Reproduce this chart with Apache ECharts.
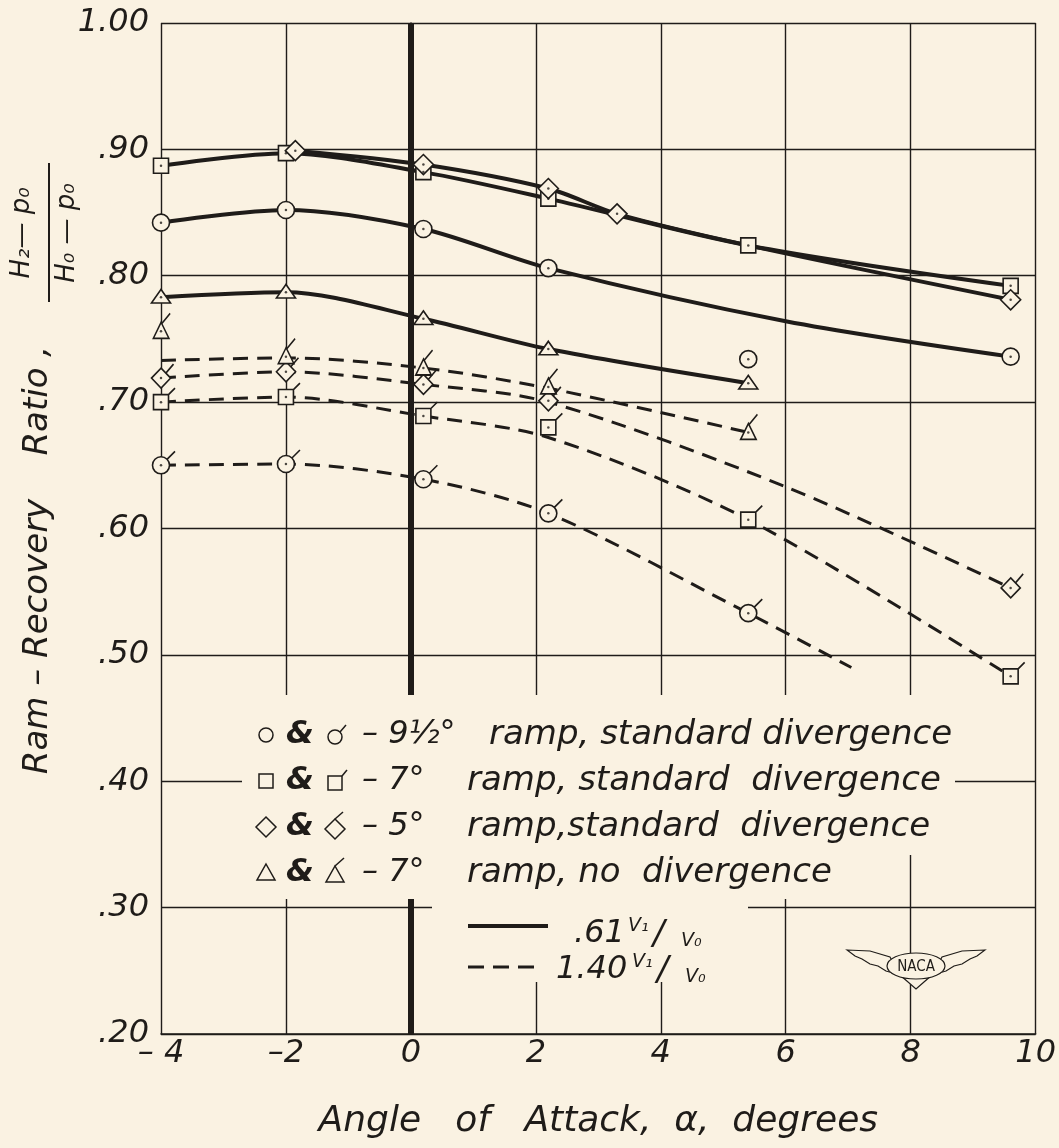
<!DOCTYPE html>
<html>
<head>
<meta charset="utf-8">
<title>Ram-Recovery Ratio vs Angle of Attack</title>
<script src="https://cdn.jsdelivr.net/npm/echarts@6/dist/echarts.min.js"></script>
<style>
  html, body { margin: 0; padding: 0; background: #faf2e2; }
  #chart { width: 1059px; height: 1148px; }
</style>
</head>
<body>
<div id="chart"></div>
<script>
// axis ranges
const xMin = -4, xMax = 10, xStep = 2
const yMin = 0.2, yMax = 1.0, yStep = 0.1

// .61 V1/V0  (solid curves) - measured points
const circleSolidPts = [[-4, 0.842], [-2, 0.852], [0.2, 0.837], [2.2, 0.806], [5.4, 0.734], [9.6, 0.736]]
const squareSolidPts = [[-4, 0.887], [-2, 0.897], [0.2, 0.882], [2.2, 0.861], [5.4, 0.824], [9.6, 0.792]]
const diamondSolidPts = [[-1.85, 0.899], [0.2, 0.888], [2.2, 0.869], [3.3, 0.849], [9.6, 0.781]]
const triangleSolidPts = [[-4, 0.783], [-2, 0.787], [0.2, 0.766], [2.2, 0.742], [5.4, 0.715]]
// faired curves
const circleSolidCurve = [[-4, 0.842], [-2, 0.852], [0.2, 0.837], [2.2, 0.806], [6, 0.764], [9.6, 0.736]]
const squareSolidCurve = [[-4, 0.887], [-2, 0.897], [0.2, 0.882], [2.2, 0.861], [5.4, 0.824], [9.6, 0.792]]
const diamondSolidCurve = [[-1.85, 0.899], [0.2, 0.888], [2.2, 0.869], [3.3, 0.849], [5.4, 0.824], [9.6, 0.781]]
const triangleSolidCurve = [[-4, 0.783], [-2, 0.787], [0.2, 0.766], [2.2, 0.742], [5.4, 0.715]]

// 1.40 V1/V0  (dashed curves, flagged symbols)
const circleDashPts = [[-4, 0.650], [-2, 0.651], [0.2, 0.639], [2.2, 0.612], [5.4, 0.533]]
const squareDashPts = [[-4, 0.700], [-2, 0.704], [0.2, 0.689], [2.2, 0.680], [5.4, 0.607], [9.6, 0.483]]
const diamondDashPts = [[-4, 0.719], [-2, 0.724], [0.2, 0.714], [2.2, 0.701], [9.6, 0.553]]
const triangleDashPts = [[-4, 0.756], [-2, 0.736], [0.2, 0.727], [2.2, 0.712], [5.4, 0.676]]
const circleDashCurve = [[-4, 0.650], [-2, 0.651], [0.2, 0.639], [2.2, 0.612], [5.4, 0.533], [7.05, 0.490]]
const squareDashCurve = [[-4, 0.700], [-2, 0.704], [0.2, 0.689], [2.2, 0.672], [5.4, 0.607], [9.6, 0.483]]
const diamondDashCurve = [[-4, 0.719], [-2, 0.724], [0.2, 0.714], [2.2, 0.700], [6, 0.633], [9.6, 0.553]]
const triangleDashCurve = [[-4, 0.733], [-2, 0.735], [0.2, 0.727], [2.2, 0.711], [5.4, 0.676]]

// legend texts
const legendRows = [
  { shape: 'circle', ramp: '9\u00bd\u00b0', text: 'ramp, standard divergence' },
  { shape: 'rect', ramp: '7\u00b0', text: 'ramp, standard  divergence' },
  { shape: 'diamond', ramp: '5\u00b0', text: 'ramp,standard  divergence' },
  { shape: 'triangle', ramp: '7\u00b0', text: 'ramp, no  divergence' }
]

const BG = '#faf2e2'
const INK = '#1f1c19'
const FONT = '"DejaVu Sans", sans-serif'

// marker symbol (hollow shape, optional flag) as a path
function markerShape (kind, flagged) {
  let d, b, f
  if (kind === 'circle') {
    const r = 8.5
    d = 'M' + (-r) + ',0A' + r + ',' + r + ',0,1,1,' + r + ',0A' + r + ',' + r + ',0,1,1,' + (-r) + ',0Z'
    b = [-r, -r, r, r]; f = [6, -6, 14, -14]
  } else if (kind === 'rect') {
    const h = 7.5
    d = 'M' + (-h) + ',' + (-h) + 'L' + h + ',' + (-h) + 'L' + h + ',' + h + 'L' + (-h) + ',' + h + 'Z'
    b = [-h, -h, h, h]; f = [h, -h, 14, -14]
  } else if (kind === 'diamond') {
    const h = 10
    d = 'M0,' + (-h) + 'L' + h + ',0L0,' + h + 'L' + (-h) + ',0Z'
    b = [-h, -h, h, h]; f = [5, -5, 13, -14]
  } else {
    d = 'M0,-9L9.5,7L-9.5,7Z'
    b = [-9.5, -9, 9.5, 7]; f = [1, -8, 11, -18]
  }
  if (flagged) {
    d += 'M' + f[0] + ',' + f[1] + 'L' + f[2] + ',' + f[3]
    b = [Math.min(b[0], f[0], f[2]), Math.min(b[1], f[1], f[3]), Math.max(b[2], f[0], f[2]), Math.max(b[3], f[1], f[3])]
  }
  return {
    symbol: 'path://' + d,
    symbolSize: [b[2] - b[0], b[3] - b[1]],
    symbolOffset: [(b[0] + b[2]) / 2, (b[1] + b[3]) / 2]
  }
}

function lineSeries (name, curve, dashed) {
  return {
    type: 'line',
    name: name,
    data: curve,
    smooth: 0.3,
    symbol: 'none',
    silent: true,
    z: 2,
    lineStyle: { color: INK, width: dashed ? 3 : 4, type: dashed ? [15, 9] : 'solid' }
  }
}

function markerSeries (name, pts, kind, flagged) {
  let s = markerShape(kind, flagged)
  return {
    type: 'scatter',
    name: name,
    data: pts,
    symbol: s.symbol,
    symbolSize: s.symbolSize,
    symbolOffset: s.symbolOffset,
    symbolKeepAspect: true,
    silent: true,
    z: 3,
    itemStyle: { color: BG, borderColor: INK, borderWidth: 1.6, opacity: 1 }
  }
}

let series = [
  lineSeries('circle .61', circleSolidCurve, false),
  lineSeries('square .61', squareSolidCurve, false),
  lineSeries('diamond .61', diamondSolidCurve, false),
  lineSeries('triangle .61', triangleSolidCurve, false),
  lineSeries('circle 1.40', circleDashCurve, true),
  lineSeries('square 1.40', squareDashCurve, true),
  lineSeries('diamond 1.40', diamondDashCurve, true),
  lineSeries('triangle 1.40', triangleDashCurve, true),
  markerSeries('circle .61 pts', circleSolidPts, 'circle', false),
  markerSeries('square .61 pts', squareSolidPts, 'rect', false),
  markerSeries('diamond .61 pts', diamondSolidPts, 'diamond', false),
  markerSeries('triangle .61 pts', triangleSolidPts, 'triangle', false),
  markerSeries('circle 1.40 pts', circleDashPts, 'circle', true),
  markerSeries('square 1.40 pts', squareDashPts, 'rect', true),
  markerSeries('diamond 1.40 pts', diamondDashPts, 'diamond', true),
  markerSeries('triangle 1.40 pts', triangleDashPts, 'triangle', true),
  {
    // centre dots of every symbol
    type: 'scatter',
    name: 'dots',
    data: [].concat(circleSolidPts, squareSolidPts, diamondSolidPts, triangleSolidPts,
      circleDashPts, squareDashPts, diamondDashPts, triangleDashPts),
    symbol: 'circle',
    symbolSize: 2.5,
    silent: true,
    z: 4,
    itemStyle: { color: INK }
  }
]

// heavy line at zero angle of attack
series[0].markLine = {
  silent: true,
  symbol: 'none',
  label: { show: false },
  lineStyle: { color: INK, width: 6, type: 'solid' },
  data: [{ xAxis: 0 }]
}

function txt (x, y, text, size, extra) {
  let el = {
    type: 'text',
    x: x,
    y: y,
    z: 20,
    style: {
      text: text,
      fontSize: size,
      fontFamily: FONT,
      fontStyle: 'italic',
      fill: INK,
      textAlign: 'left',
      align: 'left',
      textVerticalAlign: 'middle',
      verticalAlign: 'middle'
    }
  }
  if (extra) {
    Object.assign(el.style, extra.style || {})
    if (extra.rotation !== undefined) el.rotation = extra.rotation
  }
  return el
}

function mask (x, y, w, h) {
  return { type: 'rect', z: 10, shape: { x: x, y: y, width: w, height: h }, style: { fill: BG } }
}

const symStyle = { fill: BG, stroke: INK, lineWidth: 1.5 }

function legendSymbol (kind, cx, cy, flagged) {
  let els = []
  if (kind === 'circle') {
    els.push({ type: 'circle', z: 20, shape: { cx: cx, cy: cy, r: 7 }, style: symStyle })
    if (flagged) els.push({ type: 'line', z: 20, shape: { x1: cx + 5, y1: cy - 5, x2: cx + 11, y2: cy - 12 }, style: { stroke: INK, lineWidth: 1.5 } })
  } else if (kind === 'rect') {
    els.push({ type: 'rect', z: 20, shape: { x: cx - 7, y: cy - 7, width: 14, height: 14 }, style: symStyle })
    if (flagged) els.push({ type: 'line', z: 20, shape: { x1: cx + 7, y1: cy - 7, x2: cx + 12, y2: cy - 13 }, style: { stroke: INK, lineWidth: 1.5 } })
  } else if (kind === 'diamond') {
    els.push({ type: 'polygon', z: 20, shape: { points: [[cx, cy - 10], [cx + 10, cy], [cx, cy + 10], [cx - 10, cy]] }, style: symStyle })
    if (flagged) els.push({ type: 'line', z: 20, shape: { x1: cx, y1: cy - 10, x2: cx + 8, y2: cy - 17 }, style: { stroke: INK, lineWidth: 1.5 } })
  } else {
    els.push({ type: 'polygon', z: 20, shape: { points: [[cx, cy - 9], [cx + 9, cy + 7], [cx - 9, cy + 7]] }, style: symStyle })
    if (flagged) els.push({ type: 'line', z: 20, shape: { x1: cx, y1: cy - 9, x2: cx + 9, y2: cy - 17 }, style: { stroke: INK, lineWidth: 1.5 } })
  }
  return els
}

const rot = { rotation: Math.PI / 2, style: { textAlign: 'center', align: 'center' } }

let graphics = [
  // legend background cutting the grid
  mask(242, 695, 713, 160),
  mask(242, 853, 628, 46),
  mask(432, 897, 316, 85),
  // y axis title (rotated) with the fraction
  txt(38, 560, 'Ram \u2013 Recovery    Ratio ,', 34, rot),
  txt(22, 233, 'H\u2082\u2014 p\u2080', 26, rot),
  txt(67, 233, 'H\u2080 \u2014 p\u2080', 26, rot),
  { type: 'line', z: 20, shape: { x1: 49, y1: 163, x2: 49, y2: 302 }, style: { stroke: INK, lineWidth: 2 } }
]

let rowY = [735, 781, 827, 873]
legendRows.forEach(function (row, i) {
  let y = rowY[i]
  graphics = graphics.concat(legendSymbol(row.shape, 266, y, false))
  graphics.push(txt(286, y, '&', 32, { style: { fontWeight: 'bold' } }))
  graphics = graphics.concat(legendSymbol(row.shape, 335, y + 2, true))
  graphics.push(txt(362, y, '\u2013 ' + row.ramp, 32))
  graphics.push(txt(i === 0 ? 489 : 467, y, row.text, 34))
})

// line-style key
graphics.push({ type: 'line', z: 20, shape: { x1: 468, y1: 926, x2: 548, y2: 926 }, style: { stroke: INK, lineWidth: 4 } })
graphics.push({ type: 'line', z: 20, shape: { x1: 468, y1: 967, x2: 540, y2: 967 }, style: { stroke: INK, lineWidth: 3, lineDash: [16, 9] } })
graphics.push(txt(574, 934, '.61', 32))
graphics.push(txt(628, 926, 'V\u2081', 19))
graphics.push(txt(653, 935, '/', 34))
graphics.push(txt(681, 941, 'V\u2080', 19))
graphics.push(txt(556, 970, '1.40', 32))
graphics.push(txt(632, 962, 'V\u2081', 19))
graphics.push(txt(657, 971, '/', 34))
graphics.push(txt(685, 977, 'V\u2080', 19))

// NACA wings
const wingStyle = { fill: BG, stroke: INK, lineWidth: 1.2 }
graphics.push({ type: 'polygon', z: 20, shape: { points: [[847, 950], [870, 951], [890, 957], [900, 975], [893, 973], [886, 971], [878, 966], [870, 964], [862, 959], [855, 956]] }, style: wingStyle })
graphics.push({ type: 'polygon', z: 20, shape: { points: [[985, 950], [962, 951], [942, 957], [932, 975], [939, 973], [946, 971], [954, 966], [962, 964], [970, 959], [977, 956]] }, style: wingStyle })
graphics.push({ type: 'polygon', z: 20, shape: { points: [[900, 975], [916, 989], [932, 975]] }, style: wingStyle })
graphics.push({ type: 'ellipse', z: 21, shape: { cx: 916, cy: 966, rx: 29, ry: 13 }, style: wingStyle })
graphics.push({
  type: 'text', x: 916, y: 967, z: 22,
  style: { text: 'NACA', fontSize: 15, fontFamily: '"DejaVu Sans Condensed", "DejaVu Sans", sans-serif', fill: INK, textAlign: 'center', align: 'center', textVerticalAlign: 'middle', verticalAlign: 'middle' }
})

let option = {
  backgroundColor: BG,
  animation: false,
  grid: { left: 161, right: 17, top: 23, bottom: 114 },
  xAxis: {
    type: 'value',
    min: xMin,
    max: xMax,
    interval: xStep,
    name: 'Angle   of   Attack,  \u03b1,  degrees',
    nameLocation: 'middle',
    nameGap: 70,
    nameTextStyle: { fontSize: 36, fontStyle: 'italic', fontFamily: FONT, color: INK },
    axisLine: { show: true, lineStyle: { color: INK, width: 1.6 } },
    axisTick: { show: false },
    splitLine: { show: true, lineStyle: { color: INK, width: 1.4 } },
    axisLabel: {
      fontSize: 32,
      fontStyle: 'italic',
      fontFamily: FONT,
      color: INK,
      margin: 4,
      formatter: function (v) {
        if (v === -4) return '\u2013 4'
        return v < 0 ? '\u2013' + (-v) : String(v)
      }
    }
  },
  yAxis: {
    type: 'value',
    min: yMin,
    max: yMax,
    interval: yStep,
    axisLine: { show: true, lineStyle: { color: INK, width: 1.6 } },
    axisTick: { show: false },
    splitLine: { show: true, lineStyle: { color: INK, width: 1.4 } },
    axisLabel: {
      fontSize: 32,
      fontStyle: 'italic',
      fontFamily: FONT,
      color: INK,
      margin: 12,
      formatter: function (v) {
        let n = Math.round(v * 100)
        return n === 100 ? '1.00' : '.' + (n < 10 ? '0' + n : n)
      }
    }
  },
  graphic: { elements: graphics },
  series: series
}

let chart = echarts.init(document.getElementById('chart'), null, { renderer: 'canvas' })
chart.setOption(option)
</script>
</body>
</html>
